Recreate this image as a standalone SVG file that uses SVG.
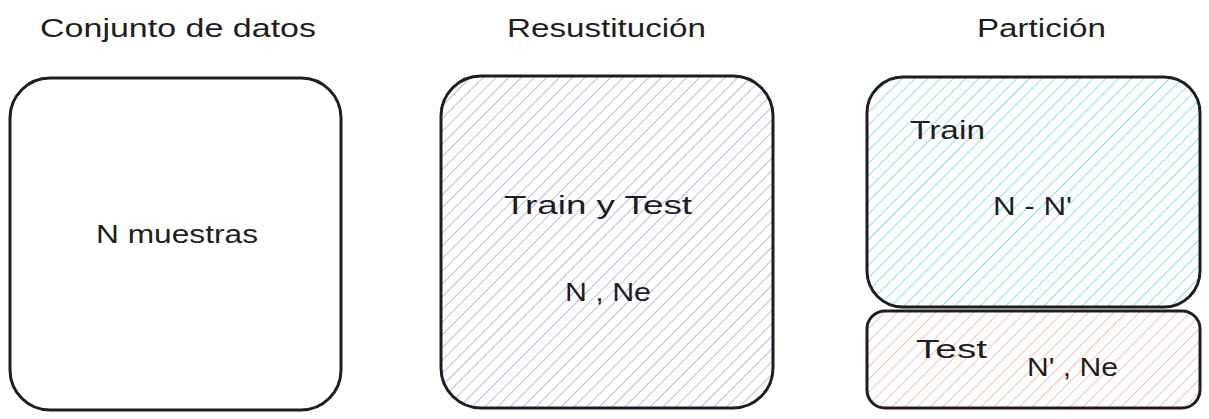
<svg xmlns="http://www.w3.org/2000/svg" width="1209" height="419" viewBox="0 0 1209 419">
<defs>
<pattern id="hPurple" width="9" height="9" patternUnits="userSpaceOnUse" patternTransform="rotate(45)">
<line x1="0" y1="0" x2="0" y2="9" stroke="#bcaaf8" stroke-width="1.8"/>
</pattern>
<pattern id="hCyan" width="9" height="9" patternUnits="userSpaceOnUse" patternTransform="rotate(45)">
<line x1="0" y1="0" x2="0" y2="9" stroke="#7fdde8" stroke-width="1.8"/>
</pattern>
<pattern id="hRed" width="9" height="9" patternUnits="userSpaceOnUse" patternTransform="rotate(45)">
<line x1="0" y1="0" x2="0" y2="9" stroke="#ffb5b5" stroke-width="1.8"/>
</pattern>
</defs>
<style>
.box{stroke:#1e1e1e;stroke-width:3;}
.t{font-family:"Liberation Sans",Arial,sans-serif;fill:#1e1e1e;font-size:26px;}
</style>
<rect width="1209" height="419" fill="#ffffff"/>
<g id="titles">
<text class="t" x="40" y="37" textLength="276" lengthAdjust="spacingAndGlyphs">Conjunto de datos</text>
<text class="t" x="507" y="37" textLength="199" lengthAdjust="spacingAndGlyphs">Resustitución</text>
<text class="t" x="977" y="37" textLength="129" lengthAdjust="spacingAndGlyphs">Partición</text>
</g>
<g id="dataset">
<rect class="box" x="10" y="78" width="331" height="332" rx="40" fill="#ffffff"/>
<text class="t" x="96" y="243" textLength="162" lengthAdjust="spacingAndGlyphs">N muestras</text>
</g>
<g id="resustitucion">
<rect class="box" x="441" y="76" width="332" height="332" rx="40" fill="url(#hPurple)"/>
<text class="t" x="504" y="214" textLength="188" lengthAdjust="spacingAndGlyphs">Train y Test</text>
<text class="t" x="565" y="301" textLength="86" lengthAdjust="spacingAndGlyphs">N , Ne</text>
</g>
<g id="train">
<rect class="box" x="867" y="77" width="333" height="230" rx="36" fill="url(#hCyan)"/>
<text class="t" x="910" y="139" textLength="75" lengthAdjust="spacingAndGlyphs">Train</text>
<text class="t" x="993" y="215" textLength="79" lengthAdjust="spacingAndGlyphs">N - N'</text>
</g>
<g id="test">
<rect class="box" x="867" y="311" width="333" height="97" rx="18" fill="url(#hRed)"/>
<text class="t" x="916" y="358" textLength="71" lengthAdjust="spacingAndGlyphs">Test</text>
<text class="t" x="1027" y="376" textLength="91" lengthAdjust="spacingAndGlyphs">N' , Ne</text>
</g>
<g id="connectors"></g>
</svg>
